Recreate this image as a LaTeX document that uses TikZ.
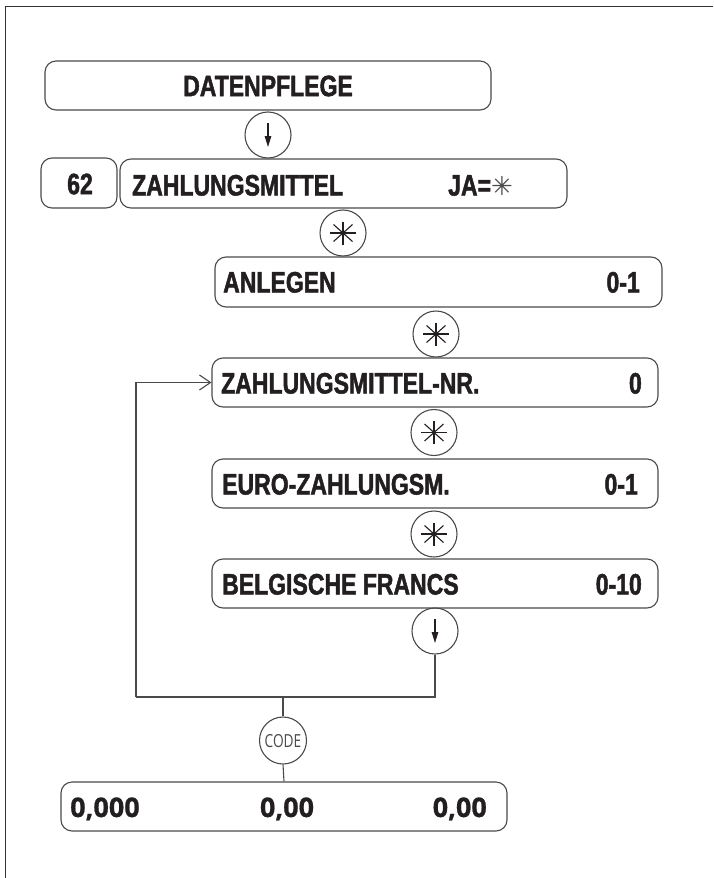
\documentclass[tikz,border=0pt]{standalone}
\usepackage{fontspec}
\newfontfamily\dinfont[FakeStretch=0.78, FakeBold=1.6]{Liberation Sans}
\newfontfamily\numfont[FakeBold=0.8]{Open Sans}
\newfontfamily\codefont[FakeStretch=0.76]{Open Sans}
\newfontfamily\symfont{DejaVu Sans}
\usetikzlibrary{arrows.meta}
\definecolor{lc}{HTML}{4A4A4A}
\definecolor{tc}{HTML}{231F20}
\tikzset{
  box/.style={draw=lc, line width=1.1pt, rounded corners=11pt, inner sep=0pt, minimum height=49pt},
  lbl/.style={font=\dinfont\bfseries\fontsize{29.5}{31}\selectfont, text=tc, inner sep=0pt},
  numlbl/.style={font=\numfont\bfseries\fontsize{27}{30}\selectfont, text=tc, inner sep=0pt},
  keyc/.style={draw=lc, line width=1.1pt, circle, minimum size=46pt, inner sep=0pt},
  conn/.style={draw=lc, line width=1.1pt},
  spoke/.style={draw=tc, line width=1.1pt},
  darrow/.style={draw=tc, line width=1.2pt, -{Triangle[length=11pt,width=6.5pt]}}
}
\newcommand{\starin}[1]{%
  \draw[spoke] (#1) ++(-13,0) -- ++(26,0);
  \draw[spoke] (#1) ++(0,-11.5) -- ++(0,23);
  \draw[spoke] (#1) ++(-9.5,-8.5) -- ++(19,17);
  \draw[spoke] (#1) ++(-9.5,8.5) -- ++(19,-17);
}
\newcommand{\downin}[1]{%
  \draw[darrow] ([yshift=12pt]#1.center) -- ([yshift=-12pt]#1.center);
}
\begin{document}
\begin{tikzpicture}[x=1pt,y=-1pt]
\useasboundingbox (0,0) rectangle (713,878);
% frame
\draw[draw=black!80, line width=1.5pt] (713,6.5) -- (5.5,6.5) -- (5.5,878);

% DATENPFLEGE
\node[box, minimum width=446pt] (dat) at (268,85.5) {};
\node[lbl] (datt) at (268,86) {DATENPFLEGE};
\node[keyc] (d1) at (268,135) {};
\downin{d1}

% 62 / ZAHLUNGSMITTEL
\node[box, minimum width=76pt, minimum height=50pt] (n62) at (79,183) {};
\node[lbl] (n62t) at (80,184) {62};
\node[box, minimum width=447pt] (zm) at (343.5,183.5) {};
\node[lbl, anchor=base west] (zmt) at (132,195.5) {ZAHLUNGSMITTEL};
\node[lbl, anchor=base west] (jat) at (448,195.5) {JA=\symfont\mdseries\fontsize{26}{28}\selectfont\textcolor{lc}{✳}};

\node[keyc] (c1) at (343,233) {};
\starin{c1}

% ANLEGEN
\node[box, minimum width=447pt, minimum height=50pt] (anl) at (438.5,282) {};
\node[lbl, anchor=base west] (anlt) at (223,292.5) {ANLEGEN};
\node[lbl, anchor=base east] (anlv) at (640,292.5) {0-1};

\node[keyc] (c2) at (436,334) {};
\starin{c2}

% ZAHLUNGSMITTEL-NR.
\node[box, minimum width=446pt] (znr) at (435,382.5) {};
\node[lbl, anchor=base west] (znrt) at (221,393.5) {ZAHLUNGSMITTEL-NR.};
\node[lbl, anchor=base east] (znrv) at (642,393.5) {0};

\node[keyc] (c3) at (434,432.5) {};
\starin{c3}

% EURO
\node[box, minimum width=446pt] (eur) at (435,483.5) {};
\node[lbl, anchor=base west] (eurt) at (222,494.5) {EURO-ZAHLUNGSM.};
\node[lbl, anchor=base east] (eurv) at (638,494.5) {0-1};

\node[keyc] (c4) at (434,534) {};
\starin{c4}

% BELGISCHE FRANCS
\node[box, minimum width=446pt] (bel) at (435,583.5) {};
\node[lbl, anchor=base west] (belt) at (222,594.5) {BELGISCHE FRANCS};
\node[lbl, anchor=base east] (belv) at (642,594.5) {0-10};

\node[keyc] (c5) at (435,631) {};
\downin{c5}

% loop
\coordinate (jl) at (136,697);
\coordinate (jm) at (283,697);
\draw[conn] (c5.south) |- (jl);
\draw[conn, -{Straight Barb[length=11pt,width=15pt]}] (jl) |- (znr.west);

% CODE
\node[keyc, minimum size=47pt] (code) at (283,740.5) {};
\node[font=\codefont\fontsize{18}{20}\selectfont, text=lc, inner sep=0pt] (codet) at (283,741) {CODE};
\draw[conn] (jm) -- (code.north);

% result
\node[box, minimum width=446pt] (res) at (284,806.5) {};
\draw[conn] (code.south) -- (res.north);
\node[numlbl, anchor=base west] (r1) at (70,817) {0,000};
\node[numlbl, anchor=base] (r2) at (287,817) {0,00};
\node[numlbl, anchor=base east] (r3) at (487,817) {0,00};
\end{tikzpicture}
\end{document}
